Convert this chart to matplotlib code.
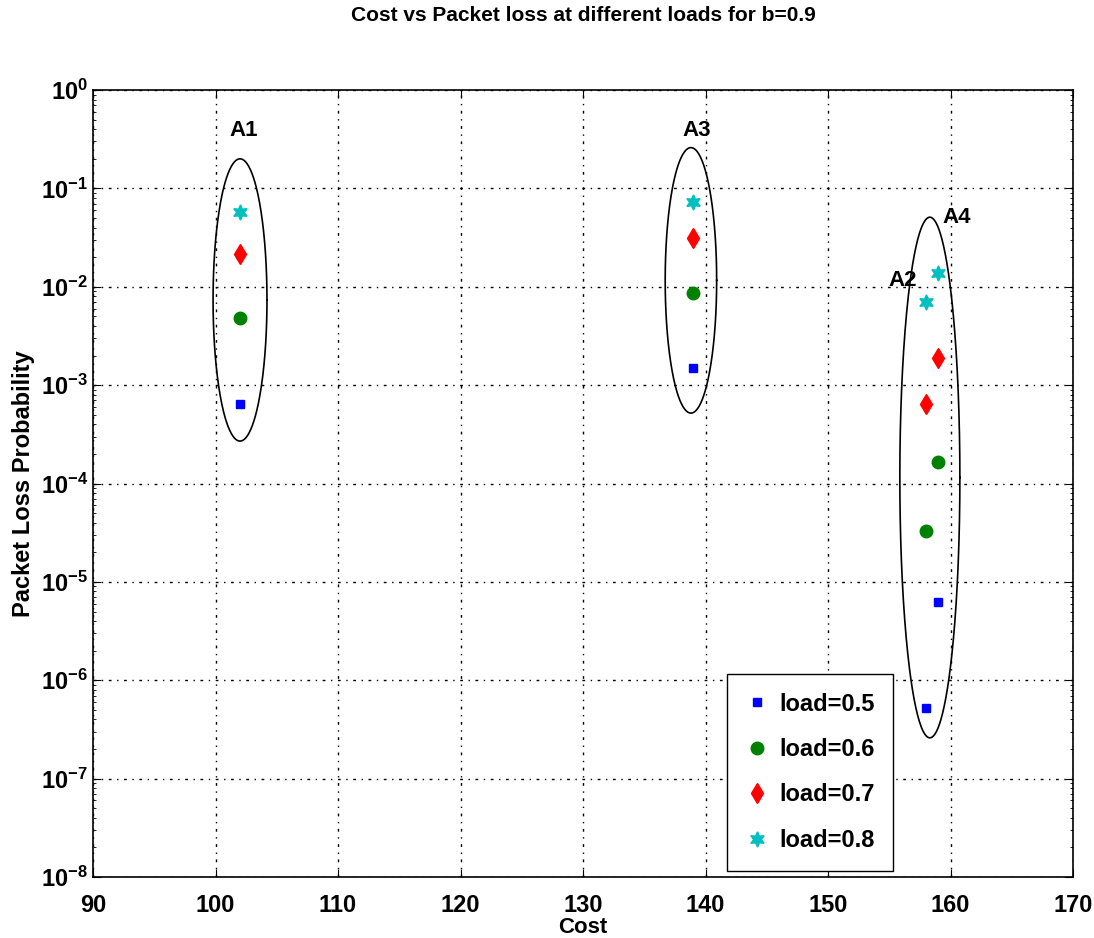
import matplotlib.pyplot as plt
import numpy as np

plt.rcParams['font.family'] = ['Liberation Sans', 'DejaVu Sans']
plt.rcParams['font.weight'] = 'bold'
plt.rcParams['mathtext.default'] = 'bf'

# groups A1, A3, A2, A4
costs = [102, 139, 158, 159]
load_05 = [6.4e-4, 1.5e-3, 5.2e-7, 6.3e-6]
load_06 = [4.8e-3, 8.6e-3, 3.3e-5, 1.65e-4]
load_07 = [2.15e-2, 3.1e-2, 6.4e-4, 1.9e-3]
load_08 = [5.8e-2, 7.3e-2, 7.0e-3, 1.38e-2]

# ellipses: x center, half width, y top, y bottom
ell_x = [102, 138.8, 158.3]
ell_w = [2.2, 2.1, 2.45]
ell_top = [0.2, 0.26, 0.051]
ell_bot = [2.7e-4, 5.2e-4, 2.6e-7]

group_labels = ['A1', 'A3', 'A4', 'A2']
label_x = [102.3, 139.3, 160.5, 156.1]
label_y = [0.39, 0.39, 0.051, 0.0117]

fig = plt.figure(figsize=(10.94, 9.38), dpi=100)
ax = fig.add_axes([0.085, 0.065, 0.896, 0.839])

ax.plot(costs, load_05, 's', color='blue', ms=6, ls='none', label='load=0.5')
ax.plot(costs, load_06, 'o', color='green', ms=9, ls='none', label='load=0.6')
ax.plot(costs, load_07, 'd', color='red', ms=10, ls='none', label='load=0.7')
ax.plot(costs, load_08, marker=(6, 1, 0), color='c', ms=11, ls='none', label='load=0.8')

t = np.linspace(0, 2 * np.pi, 300)
for cx, w, top, bot in zip(ell_x, ell_w, ell_top, ell_bot):
    lt, lb = np.log10(top), np.log10(bot)
    yc, hy = (lt + lb) / 2, (lt - lb) / 2
    ax.plot(cx + w * np.cos(t), 10 ** (yc + hy * np.sin(t)), color='black', lw=1.2)

for lab, lx, ly in zip(group_labels, label_x, label_y):
    ax.text(lx, ly, lab, fontsize=16, fontweight='bold', ha='center', va='center')

ax.set_yscale('log')
ax.set_xlim(90, 170)
ax.set_ylim(1e-8, 1)
ax.set_xticks(np.arange(90, 171, 10))
ax.set_yticks([10.0 ** k for k in range(-8, 1)])
ax.grid(True, which='major', color='black', ls=(0, (2, 4, 1, 4)), lw=1.0)
ax.tick_params(which='both', direction='in', top=True, right=True, labelsize=17)
ax.tick_params(which='major', length=6)
ax.tick_params(axis='x', pad=12)
for s in ax.spines.values():
    s.set_linewidth(1.2)

ax.set_title('Cost vs Packet loss at different loads for b=0.9', fontsize=15,
             fontweight='bold', pad=50)
ax.set_xlabel('Cost', fontsize=16, fontweight='bold', labelpad=0)
ax.set_ylabel('Packet Loss Probability', fontsize=17, fontweight='bold', labelpad=4)

ax.legend(loc='lower left', bbox_to_anchor=(0.647, 0.008), fontsize=17,
          fancybox=False, edgecolor='black', framealpha=1, handletextpad=0.5,
          labelspacing=0.95, borderpad=0.8, handlelength=0.9, borderaxespad=0)

fig.savefig('out.png', dpi=100)
